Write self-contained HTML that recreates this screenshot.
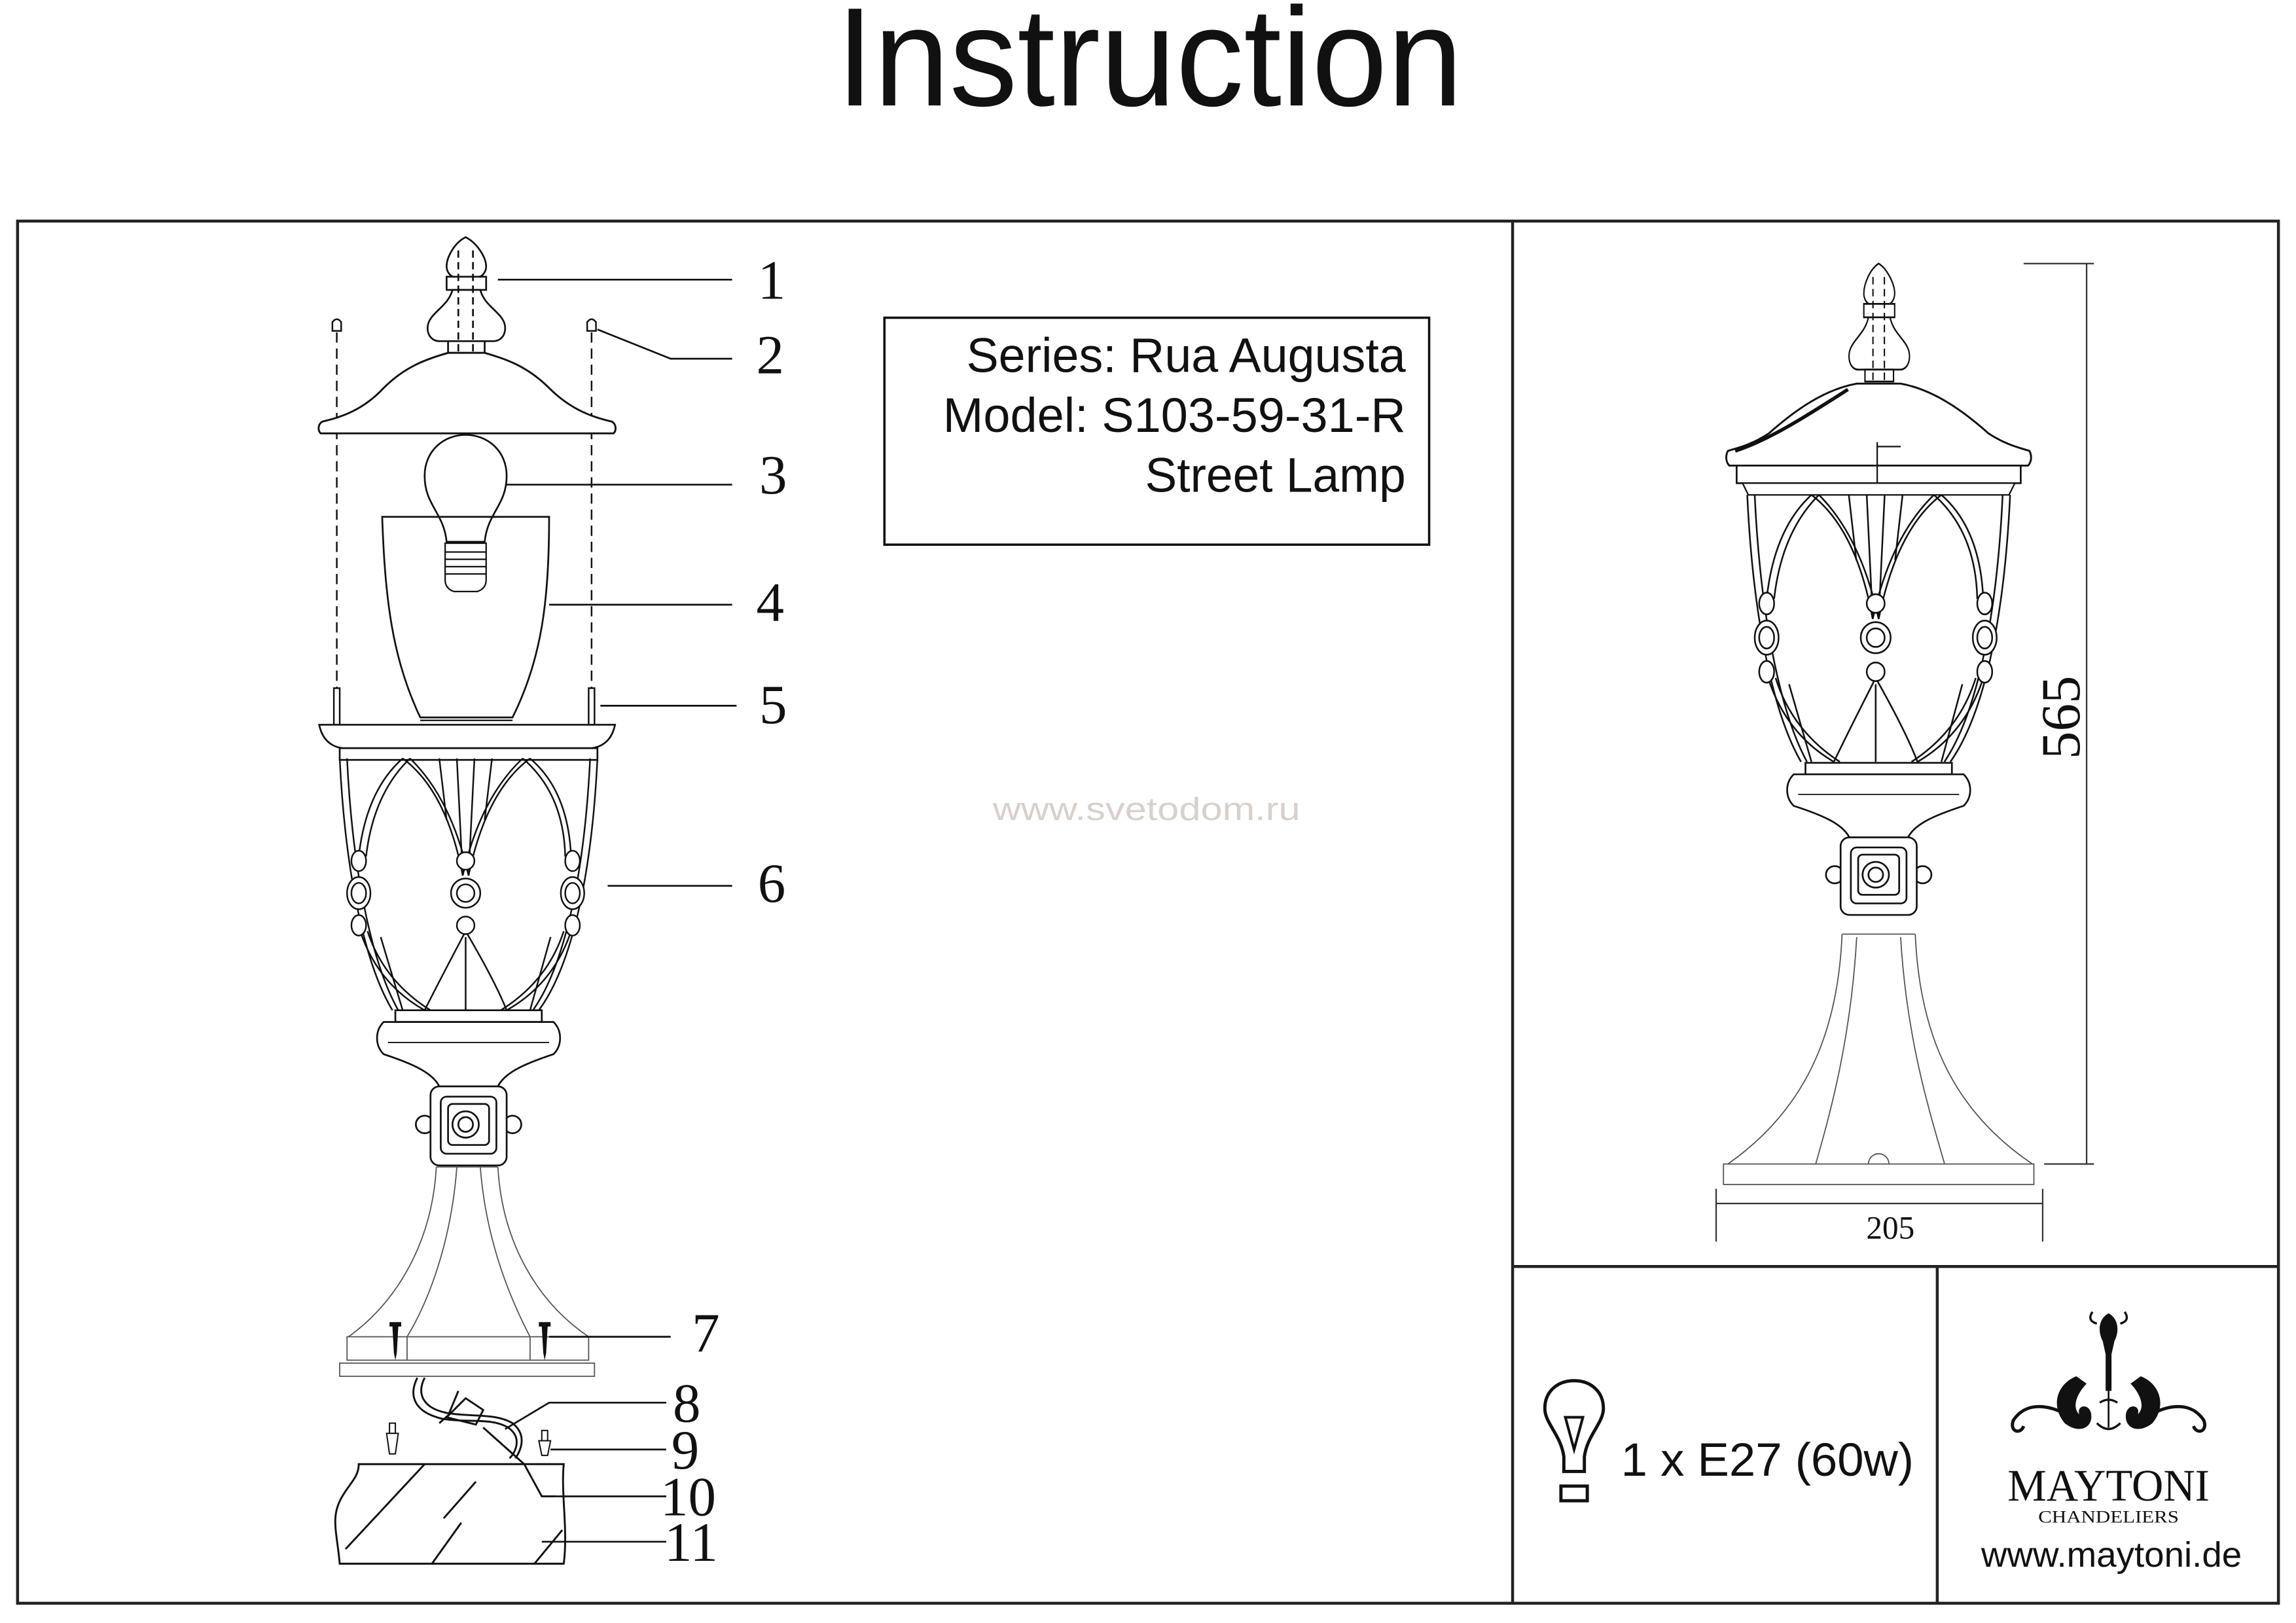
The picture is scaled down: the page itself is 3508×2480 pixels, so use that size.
<!DOCTYPE html>
<html><head><meta charset="utf-8"><style>
html,body{margin:0;padding:0;background:#fff;}
svg{display:block;}
</style></head><body>
<svg width="3508" height="2480" viewBox="0 0 1568 1108.5" xmlns="http://www.w3.org/2000/svg">
<defs>
<g id="finial" fill="#fff" stroke="#111" stroke-width="1.2">
  <path d="M318,162 C310,166 305,176 305,182 C305,186 308,189 310,189 L327,189 C329,189 332,186 332,182 C332,176 326,166 318,162 Z"/>
  <rect x="305" y="189" width="27" height="9"/>
  <path d="M309,198 C306,210 292,214 292,224 C292,230 296,233 300,233 L337,233 C341,233 345,230 345,224 C345,214 331,210 328,198 Z"/>
  <rect x="306" y="233" width="25" height="8"/>
  <path d="M313,171 V241 M323,171 V241" stroke-dasharray="5,3"/>
</g>
<g id="cage" fill="none" stroke="#111" stroke-width="1.1">
  <path d="M232,518 C236,600 250,660 268,690 M237,518 C241,600 255,660 272,690 M408,518 C404,600 390,660 368,690 M403,518 C399,600 385,660 364,690"/>
  <path d="M275,518 Q250,540 245,585 M280,518 Q255,542 250,585 M275,518 Q305,540 316,598 M280,518 Q308,545 320,598"/>
  <path d="M362,518 Q332,540 320,598 M357,518 Q328,545 316,598 M362,518 Q388,540 390,585 M357,518 Q385,542 386,585"/>
  <path d="M312,518 L316,598 M324,518 L320,598 M300,518 L305,560 M336,518 L331,560"/>
  <path d="M246,636 Q258,672 290,690 M251,636 Q262,670 294,690 M318,636 Q300,670 290,690 M318,636 Q338,670 346,690 M390,636 Q378,672 346,690 M385,636 Q374,670 342,690"/>
  <path d="M318,640 L318,690 M260,640 L275,690 M376,640 L362,690"/>
  <g fill="#fff">
  <ellipse cx="245" cy="588" rx="5" ry="7"/><ellipse cx="245" cy="610" rx="8" ry="11"/><ellipse cx="245" cy="610" rx="5" ry="7"/><ellipse cx="245" cy="632" rx="5" ry="7"/>
  <circle cx="318" cy="588" r="6"/><circle cx="318" cy="610" r="10"/><circle cx="318" cy="610" r="6"/><circle cx="318" cy="632" r="6"/>
  <ellipse cx="391" cy="588" rx="5" ry="7"/><ellipse cx="391" cy="610" rx="8" ry="11"/><ellipse cx="391" cy="610" rx="5" ry="7"/><ellipse cx="391" cy="632" rx="5" ry="7"/>
  </g>
</g>
<g id="neck" fill="#fff" stroke="#111" stroke-width="1.2">
  <rect x="270" y="690" width="100" height="8"/>
  <path d="M262,698 L378,698 C384,704 384,714 378,720 C360,726 345,732 340,742 L300,742 C295,732 280,726 262,720 C256,714 256,704 262,698 Z"/>
  <path d="M265,712 L375,712" stroke-width="0.8"/>
  <circle cx="290" cy="768" r="6"/><circle cx="350" cy="768" r="6"/>
  <rect x="294" y="742" width="52" height="54" rx="6"/>
  <rect x="301" y="749" width="38" height="39" rx="4"/>
  <rect x="306" y="754" width="28" height="28" rx="3"/>
  <circle cx="318" cy="768" r="9"/><circle cx="318" cy="768" r="5"/>
</g>
</defs>

<text x="785" y="72" text-anchor="middle" font-family="Liberation Sans, sans-serif" font-size="96" textLength="428" lengthAdjust="spacingAndGlyphs" fill="#111">Instruction</text>

<g fill="none" stroke="#222" stroke-width="2">
  <rect x="12" y="151" width="1544" height="944"/>
  <line x1="1033" y1="151" x2="1033" y2="1095"/>
  <line x1="1033" y1="865" x2="1556" y2="865"/>
  <line x1="1323" y1="865" x2="1323" y2="1095"/>
</g>

<rect x="604" y="217" width="372" height="155" fill="none" stroke="#111" stroke-width="1.6"/>
<g font-family="Liberation Sans, sans-serif" font-size="33" fill="#111" text-anchor="end">
  <text x="960" y="254" textLength="300" lengthAdjust="spacingAndGlyphs">Series: Rua Augusta</text>
  <text x="960" y="295" textLength="316" lengthAdjust="spacingAndGlyphs">Model: S103-59-31-R</text>
  <text x="960" y="336" textLength="178" lengthAdjust="spacingAndGlyphs">Street Lamp</text>
</g>

<text x="783" y="560" text-anchor="middle" font-family="Liberation Sans, sans-serif" font-size="22" textLength="210" lengthAdjust="spacingAndGlyphs" fill="#d8d0cc">www.svetodom.ru</text>

<use href="#finial"/>
<g fill="#fff" stroke="#111" stroke-width="1.1">
  <path d="M227,226 V220 Q230,216 233,220 V226 Z"/><path d="M401,226 V220 Q404,216 407,220 V226 Z"/>
  <path d="M230,227 V470 M404,227 V470" stroke-dasharray="7,4"/>
  <rect x="228" y="470" width="4" height="25"/><rect x="402" y="470" width="4" height="25"/>
</g>
<path d="M306,241 L331,241 C345,245 360,250 375,265 C390,280 405,285 418,288 C421,290 421,294 419,296 L219,296 C217,294 217,290 220,288 C233,285 248,280 262,265 C277,250 292,245 306,241 Z" fill="#fff" stroke="#111" stroke-width="1.3"/>
<g fill="#fff" stroke="#111" stroke-width="1.2">
  <path d="M305,370 C303,350 290,345 290,325 C290,308 303,297 318,297 C333,297 346,308 346,325 C346,345 333,350 331,370 Z"/>
</g>
<path d="M261,353 L375,353 C375,410 370,450 350,490 L287,490 C268,450 263,410 261,353 Z" fill="none" stroke="#111" stroke-width="1.2"/>
<line x1="287" y1="492" x2="350" y2="492" stroke="#111" stroke-width="1"/>
<g fill="#fff" stroke="#111" stroke-width="1">
  <path d="M304,371 H332 V396 Q332,402 326,404 H310 Q304,402 304,396 Z"/>
  <path d="M304,377 H332 M304,382 H332 M304,387 H332 M304,392 H332" />
</g>
<path d="M218,495 L420,495 C418,505 412,510 404,511 L234,511 C226,510 220,505 218,495 Z" fill="#fff" stroke="#111" stroke-width="1.2"/>
<rect x="232" y="511" width="176" height="8" fill="#fff" stroke="#111" stroke-width="1.2"/>
<use href="#cage"/>
<use href="#neck"/>
<g fill="none" stroke="#555" stroke-width="0.8">
  <path d="M298,797 L340,797"/>
  <path d="M298,797 C295,850 270,890 238,913 M340,797 C343,850 368,890 402,913"/>
  <path d="M312,797 C308,850 292,890 278,913 M328,797 C332,850 350,890 362,913"/>
  <rect x="237" y="913" width="165" height="16"/>
  <line x1="278" y1="913" x2="278" y2="929"/><line x1="362" y1="913" x2="362" y2="929"/>
  <rect x="232" y="931" width="174" height="9"/>
</g>
<g fill="#111">
  <path d="M266,903 H274 V906 H272 L271,924 L270,929 L269,924 L268,906 H266 Z"/>
  <path d="M368,903 H376 V906 H374 L373,924 L372,929 L371,924 L370,906 H368 Z"/>
</g>
<g fill="none" stroke="#111" stroke-width="1.3">
  <path d="M285,941 C278,955 285,965 302,969 C320,972 335,968 347,975 C357,982 352,992 348,996"/>
  <path d="M290,941 C284,953 290,962 305,965 C322,968 338,965 350,972 C360,980 356,990 352,996"/>
  <path d="M305,968 L318,955 L330,963 L325,973 Z"/>
  <path d="M306,967 L313,950 M300,972 L308,965"/>
  <path d="M330,975 L358,1000 L370,1022 L380,1022"/>
</g>
<g fill="#fff" stroke="#111" stroke-width="0.9">
  <rect x="266" y="972" width="4" height="7"/><path d="M264,979 H272 L270,993 H266 Z"/>
  <rect x="370" y="977" width="4" height="7"/><path d="M368,984 H376 L374,994 H370 Z"/>
</g>
<g fill="none" stroke="#111" stroke-width="1.3">
  <path d="M245,1000 L385,1000 C383,1020 388,1045 385,1068 L232,1068 C230,1045 225,1035 235,1020 C240,1012 245,1008 245,1000 Z"/>
  <path d="M236,1058 L290,1000 M295,1068 L315,1040 M303,1037 L325,1012 M365,1068 L384,1045"/>
</g>

<g fill="none" stroke="#111" stroke-width="1.2">
  <path d="M340,191 H500"/>
  <path d="M408,225 L458,245 H500"/>
  <path d="M345,331 H500"/>
  <path d="M375,413 H500"/>
  <path d="M410,482 H503"/>
  <path d="M415,605 H500"/>
  <path d="M375,913 H458"/>
  <path d="M345,976 L375,958 H455"/>
  <path d="M376,990 H455"/>
  <path d="M380,1022 H455"/>
  <path d="M370,1053 H455"/>
</g>
<g font-family="Liberation Serif, serif" font-size="38" fill="#111" text-anchor="middle">
  <text x="527" y="204">1</text>
  <text x="526" y="255">2</text>
  <text x="528" y="337">3</text>
  <text x="526" y="424">4</text>
  <text x="528" y="494">5</text>
  <text x="527" y="616">6</text>
  <text x="482" y="923">7</text>
  <text x="469" y="971">8</text>
  <text x="468" y="1003">9</text>
  <text x="470" y="1035">10</text>
  <text x="472" y="1066">11</text>
</g>

<g transform="translate(1283,180) scale(0.78,1.02) translate(-318,-162)"><use href="#finial"/></g>
<path d="M1268,262 L1298,262 C1320,266 1340,280 1358,296 C1370,304 1380,306 1386,308 C1388,312 1387,316 1385,318 L1181,318 C1179,316 1178,312 1180,308 C1186,306 1196,304 1208,296 C1226,280 1246,266 1268,262 Z" fill="#fff" stroke="#111" stroke-width="1.3"/>
<path d="M1185,308 C1210,300 1240,280 1262,266" fill="none" stroke="#111" stroke-width="2.4"/>
<rect x="1186" y="318" width="194" height="12" fill="#fff" stroke="#111" stroke-width="1.2"/>
<path d="M1282,302 V332 M1282,305 H1298" stroke="#111" stroke-width="1" fill="none"/>
<path d="M1190,330 L1376,330 L1372,338 L1194,338 Z" fill="#fff" stroke="#111" stroke-width="1"/>
<g transform="translate(1283,338) scale(1.02,1.06) translate(-320,-518)"><use href="#cage"/></g>
<g transform="translate(1283,521) scale(1.0,0.98) translate(-320,-690)"><use href="#neck"/></g>
<g fill="none" stroke="#555" stroke-width="0.8">
  <path d="M1258,638 H1308"/>
  <path d="M1258,638 C1255,710 1230,760 1180,795 M1308,638 C1311,710 1336,760 1388,795"/>
  <path d="M1268,640 C1264,710 1250,760 1240,795 M1298,640 C1302,710 1318,760 1328,795"/>
  <rect x="1177" y="795" width="212" height="14"/>
  <path d="M1276,795 A7,7 0 0 1 1290,795"/>
</g>
<g fill="none" stroke="#333" stroke-width="1">
  <path d="M1382,180 H1430 M1425,180 V795 M1396,795 H1430"/>
  <path d="M1172,812 V848 M1395,812 V848 M1172,822 H1395"/>
</g>
<text transform="translate(1420,490) rotate(-90)" text-anchor="middle" font-family="Liberation Serif, serif" font-size="38" fill="#111">565</text>
<text x="1291" y="846" text-anchor="middle" font-family="Liberation Serif, serif" font-size="22" fill="#111">205</text>

<g fill="none" stroke="#111" stroke-width="2.2">
  <path d="M1068,1005 V995 C1066,980 1055,972 1055,962 C1055,950 1064,943 1075,943 C1086,943 1095,950 1095,962 C1095,972 1084,980 1082,995 V1005 Z"/>
  <path d="M1069,968 H1081 L1075,990 Z" stroke-width="1.8"/>
  <rect x="1066" y="1015" width="18" height="10"/>
</g>
<text x="1107" y="1008" font-family="Liberation Sans, sans-serif" font-size="32" fill="#111" textLength="200" lengthAdjust="spacingAndGlyphs">1 x E27 (60w)</text>

<g fill="#111" stroke="none">
  <path d="M1440,897 C1434,900 1432,908 1436,916 L1438,925 L1438,950 L1442,950 L1442,925 L1444,916 C1448,908 1446,900 1440,897 Z"/>
  <path d="M1429,896 q-4,6 3,8 M1451,896 q4,6 -3,8" fill="none" stroke="#111" stroke-width="1.5"/>
  <path d="M1440,950 V975" stroke="#111" stroke-width="1.2"/>
  <path d="M1418,940 C1405,945 1400,960 1410,972 C1420,980 1430,975 1428,965 C1426,958 1418,960 1420,966 C1414,960 1420,950 1425,945 Z"/>
  <path d="M1462,940 C1475,945 1480,960 1470,972 C1460,980 1450,975 1452,965 C1454,958 1462,960 1460,966 C1466,960 1460,950 1455,945 Z"/>
  <path d="M1420,972 C1405,960 1385,955 1375,970 C1372,978 1380,980 1382,974" fill="none" stroke="#111" stroke-width="2.2"/>
  <path d="M1460,972 C1475,960 1495,955 1505,970 C1508,978 1500,980 1498,974" fill="none" stroke="#111" stroke-width="2.2"/>
  <path d="M1434,958 q6,-4 12,0 M1432,972 q8,8 16,0" fill="none" stroke="#111" stroke-width="1.5"/>
</g>
<text x="1440" y="1025" text-anchor="middle" font-family="Liberation Serif, serif" font-size="31" fill="#111" textLength="138" lengthAdjust="spacingAndGlyphs">MAYTONI</text>
<text x="1440" y="1040" text-anchor="middle" font-family="Liberation Serif, serif" font-size="12" fill="#111" textLength="96" lengthAdjust="spacingAndGlyphs">CHANDELIERS</text>
<text x="1442" y="1070" text-anchor="middle" font-family="Liberation Sans, sans-serif" font-size="24" fill="#111" textLength="178" lengthAdjust="spacingAndGlyphs">www.maytoni.de</text>
</svg>
</body></html>
